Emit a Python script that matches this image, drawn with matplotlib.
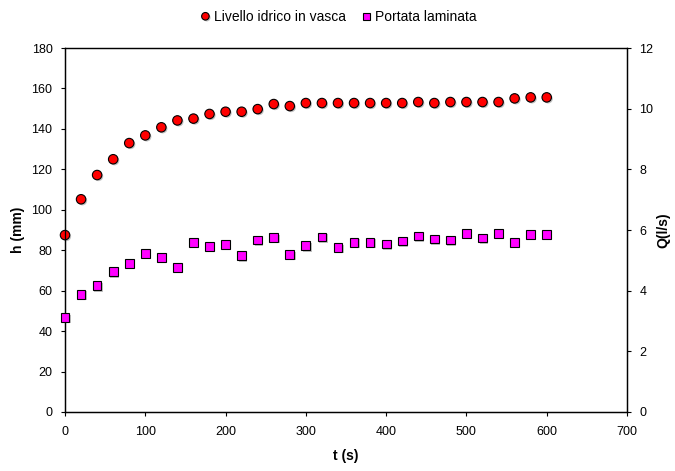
import matplotlib
matplotlib.use("Agg")
import matplotlib.pyplot as plt
import matplotlib.patheffects as pe

plt.rcParams['font.family'] = ['Liberation Sans', 'DejaVu Sans']

t = list(range(0, 601, 20))
livello = [87.5, 105.2, 117.2, 125.0, 133.0, 136.8, 140.8, 144.2, 145.1, 147.4,
           148.5, 148.5, 149.8, 152.3, 151.3, 152.8, 152.8, 152.8, 152.8, 152.8,
           152.8, 152.8, 153.3, 152.8, 153.3, 153.3, 153.3, 153.3, 155.1, 155.6, 155.6]
portata = [3.11, 3.88, 4.16, 4.62, 4.90, 5.23, 5.10, 4.77, 5.60, 5.45,
           5.52, 5.15, 5.67, 5.75, 5.19, 5.48, 5.77, 5.42, 5.60, 5.60,
           5.54, 5.64, 5.80, 5.70, 5.67, 5.89, 5.74, 5.89, 5.60, 5.86, 5.86]

fig = plt.figure(figsize=(6.75, 4.71), dpi=100)
ax = fig.add_axes([0.0963, 0.1253, 0.8326, 0.7727])
ax2 = ax.twinx()

shadow = [pe.SimplePatchShadow(offset=(1, -1), shadow_rgbFace='#999999', alpha=0.6), pe.Normal()]

l1, = ax.plot(t, livello, 'o', color='#ff0000', markeredgecolor='black',
              markeredgewidth=0.8, markersize=6.8, label='Livello idrico in vasca',
              path_effects=shadow, clip_on=False, zorder=5)
l2, = ax2.plot(t, portata, 's', color='#ff00ff', markeredgecolor='black',
               markeredgewidth=0.8, markersize=6.3, label='Portata laminata',
               path_effects=shadow, clip_on=False, zorder=5)

ax.set_xlim(0, 700)
ax.set_ylim(0, 180)
ax2.set_ylim(0, 12)
ax.set_xticks(range(0, 701, 100))
ax.set_yticks(range(0, 181, 20))
ax2.set_yticks(range(0, 13, 2))

for a in (ax, ax2):
    a.tick_params(direction='out', length=3, width=0.8, labelsize=9, pad=6)
    for s in a.spines.values():
        s.set_linewidth(0.9)
ax.tick_params(axis='x', pad=7)
ax.spines['top'].set_color('#333333')

ax.set_xlabel('t (s)', fontsize=10, fontweight='bold', labelpad=8)
ax.set_ylabel('h (mm)', fontsize=10, fontweight='bold')
ax2.set_ylabel('Q(l/s)', fontsize=10, fontweight='bold', rotation=90)
ax.yaxis.set_label_coords(-0.072, 0.5)
ax2.yaxis.set_label_coords(1.053, 0.5)

fig.legend(handles=[l1, l2], loc='upper center', bbox_to_anchor=(0.5, 1.005),
           ncol=2, frameon=False, fontsize=10, handletextpad=0.1,
           columnspacing=1.0, markerscale=0.8, handlelength=1.0)

fig.savefig('out.png', dpi=100)
